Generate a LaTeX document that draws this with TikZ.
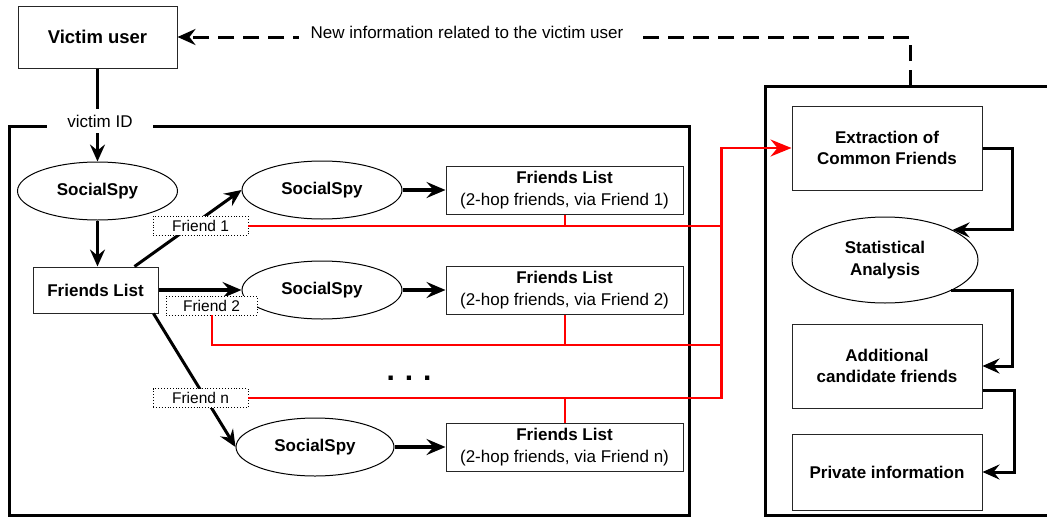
\documentclass[tikz,border=0pt]{standalone}
\usepackage{fontspec}
\setmainfont{Liberation Sans}
\usetikzlibrary{shapes.geometric,arrows.meta,calc}
\begin{document}
\begin{tikzpicture}[x=1pt,y=-1pt,
  bbox/.style={draw=black!85,line width=1pt,rectangle,inner sep=0pt,align=center,
    font=\fontsize{17}{21}\selectfont\bfseries},
  flbox/.style={draw=black!85,line width=1pt,rectangle,inner sep=0pt,align=center,
    minimum width=237pt,minimum height=48pt,font=\fontsize{17}{22}\selectfont},
  oval/.style={draw=black,line width=1pt,ellipse,inner sep=0pt,align=center,
    minimum width=160pt,minimum height=58pt,font=\fontsize{17}{22}\selectfont\bfseries},
  friend/.style={draw=black,dotted,line width=0.9pt,fill=white,inner sep=0pt,
    minimum width=95pt,minimum height=19pt,font=\fontsize{15.5}{18}\selectfont},
  frame/.style={line width=3pt},
  conn/.style={line width=3pt,-{Stealth[length=17pt,width=15pt,inset=6pt]}},
  bigarrow/.style={line width=4pt,-{Stealth[length=19pt,width=16pt,inset=7pt]}},
  dasharrow/.style={line width=3pt,dash pattern=on 16pt off 9pt,
    -{Stealth[length=18pt,width=16pt,inset=6pt]}},
  redline/.style={red,line width=2pt},
  redarrow/.style={red,line width=2.5pt,-{Stealth[length=21pt,width=17pt,inset=7pt]}},
  lbl/.style={fill=white,font=\fontsize{17}{21}\selectfont}
]
\useasboundingbox (0,0) rectangle (1047,517);

% frames
\draw[frame] (9,126) rectangle (689,515);
\draw[frame] (1047,86) -- (765,86) -- (765,515) -- (1047,515);

% main nodes
\node[bbox,minimum width=159pt,minimum height=62pt,
  font=\fontsize{18.5}{22}\selectfont\bfseries] (victim) at (97.5,37) {Victim user};
\node[oval] (ss1) at (97.5,191) {SocialSpy};
\node[oval] (ss2) at (322,190) {SocialSpy};
\node[oval] (ss3) at (322,290) {SocialSpy};
\node[oval,minimum width=158pt] (ss4) at (315,447) {SocialSpy};
\node[bbox,minimum width=125pt,minimum height=46pt] (fl0) at (95.5,290) {Friends List};
\node[flbox] (fl1) at (564.5,190) {\textbf{Friends List}\\(2-hop friends, via Friend 1)};
\node[flbox] (fl2) at (564.5,290) {\textbf{Friends List}\\(2-hop friends, via Friend 2)};
\node[flbox] (fl3) at (564.5,447) {\textbf{Friends List}\\(2-hop friends, via Friend n)};
\node[anchor=base,inner sep=0pt,font=\fontsize{30}{30}\selectfont\bfseries] (dots) at (409,380) {.\,\,.\,\,.};

\node[bbox,minimum width=190pt,minimum height=84pt] (ext) at (887,148) {Extraction of\\Common Friends};
\node[oval,minimum width=186pt,minimum height=86pt] (stat) at (885,260) {Statistical\\Analysis};
\node[bbox,minimum width=190pt,minimum height=84pt] (add) at (887,366) {Additional\\candidate friends};
\node[bbox,minimum width=190pt,minimum height=76pt] (priv) at (887,472) {Private information};

% black connectors
\draw[conn] (victim.south) -- (ss1.north);
\draw[conn] (ss1.south) -- (ss1.south |- fl0.north);
\draw[conn] ($(fl0.north east)+(-24,0)$) -- (ss2.west);
\draw[bigarrow] (fl0.east) -- (ss3.west);
\draw[conn] ($(fl0.south east)+(-5,0)$) -- (ss4.west);
\draw[bigarrow] (ss2.east) -- (fl1.west);
\draw[bigarrow] (ss3.east) -- (fl2.west);
\draw[bigarrow] (ss4.east) -- (fl3.west);

\draw[conn] (ext.east) -- ++(30,0) |- (stat.24);
\draw[conn] (stat.-25) -| ($(add.east)+(30,0)$) -- (add.east);
\draw[conn] ($(add.south east)+(0,-18)$) -- ++(32,0) |- (priv.east);

% dashed feedback
\coordinate (rtop) at (910,86);
\draw[dasharrow] (rtop) |- (victim.east);
\node[lbl,anchor=base,inner xsep=12pt,inner ysep=4pt] (newinfo) at (467,38) {New information related to the victim user};

% victim ID label
\node[lbl,anchor=base,inner xsep=20pt,inner ysep=6pt] (vid) at (100,127) {victim ID};

% friend labels
\node[friend] (f1) at (200.5,225.5) {Friend 1};
\node[friend,minimum width=91pt] (f2) at (211.5,305.5) {Friend 2};
\node[friend] (fn) at (200.5,398) {Friend n};

% red lines
\coordinate (bus) at ($(ext.west)+(-70,0)$);
\coordinate (r2) at (211.5,345);
\draw[redline] (f1.east) -- (f1.east -| bus);
\draw[redline] (fl1.south) -- (fl1.south |- f1.east);
\draw[redline] (f2.south) |- (r2 -| bus);
\draw[redline] (fl2.south) -- (fl2.south |- r2);
\draw[redline] (fl3.north) -- (fl3.north |- fn.east);
\draw[redarrow] (fn.east) -| (bus) -- (ext.west);
\end{tikzpicture}
\end{document}
